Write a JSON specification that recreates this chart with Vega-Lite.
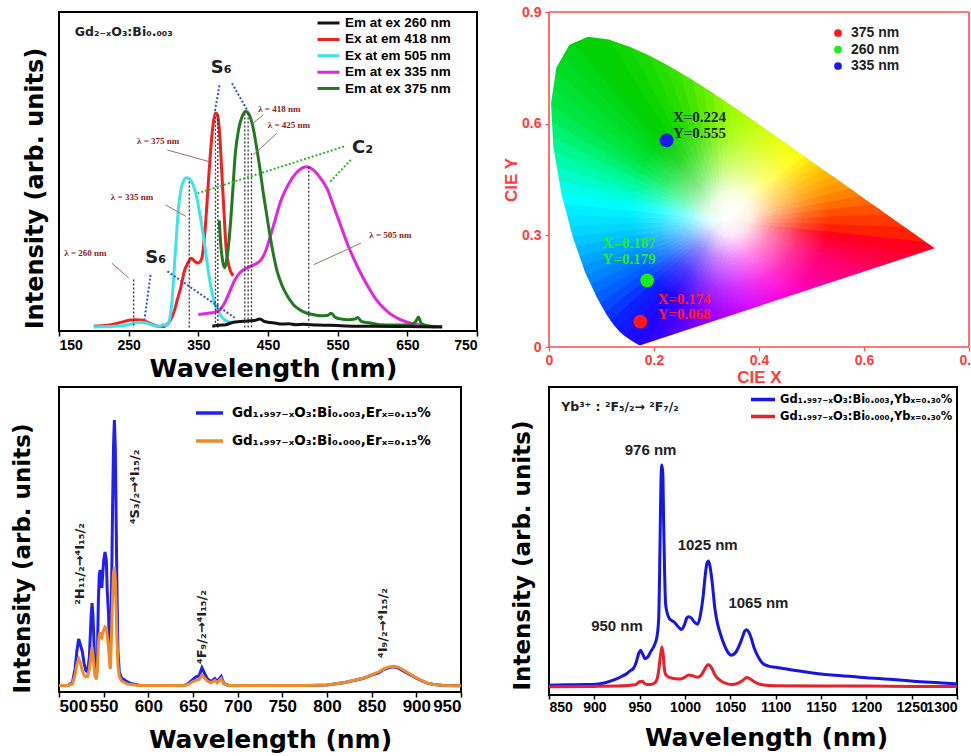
{
"$schema":"https://vega.github.io/schema/vega-lite/v6.json",
"padding":{"left":10,"top":5,"right":0,"bottom":0},
"background":"white",
"columns":2,
"bounds":"flush",
"spacing":{"row":40,"column":72},
"resolve":{"scale":{"color":"independent","fill":"independent"},"legend":{"color":"independent"}},
"datasets":{
"aCurves":[
{"s":"r","x":200,"y":0.5},{"s":"r","x":220,"y":0.8},{"s":"r","x":240,"y":1.8},{"s":"r","x":250,"y":2.4},{"s":"r","x":260,"y":2.6},{"s":"r","x":270,"y":2.4},{"s":"r","x":280,"y":1.5},{"s":"r","x":290,"y":0.6},{"s":"r","x":300,"y":0.4},{"s":"r","x":305,"y":1.0},{"s":"r","x":310,"y":2.5},{"s":"r","x":315,"y":5},{"s":"r","x":320,"y":9},{"s":"r","x":325,"y":13},{"s":"r","x":330,"y":18},{"s":"r","x":335,"y":20.5},{"s":"r","x":340,"y":22},{"s":"r","x":345,"y":21},{"s":"r","x":350,"y":20.5},{"s":"r","x":355,"y":22},{"s":"r","x":360,"y":32},{"s":"r","x":365,"y":48},{"s":"r","x":370,"y":62},{"s":"r","x":375,"y":68},{"s":"r","x":378,"y":67},{"s":"r","x":381,"y":60},{"s":"r","x":384,"y":48},{"s":"r","x":387,"y":36},{"s":"r","x":390,"y":25},{"s":"r","x":394,"y":19.5},{"s":"r","x":400,"y":16.5},
{"s":"c","x":200,"y":0.3},{"s":"c","x":230,"y":0.5},{"s":"c","x":250,"y":1.0},{"s":"c","x":265,"y":1.8},{"s":"c","x":275,"y":1.6},{"s":"c","x":285,"y":0.8},{"s":"c","x":295,"y":0.5},{"s":"c","x":300,"y":1.0},{"s":"c","x":305,"y":0.8},{"s":"c","x":308,"y":2.0},{"s":"c","x":312,"y":8},{"s":"c","x":317,"y":24},{"s":"c","x":322,"y":39},{"s":"c","x":327,"y":45.5},{"s":"c","x":333,"y":47.5},{"s":"c","x":338,"y":47},{"s":"c","x":343,"y":45},{"s":"c","x":348,"y":41},{"s":"c","x":353,"y":35},{"s":"c","x":358,"y":28},{"s":"c","x":363,"y":20},{"s":"c","x":368,"y":13},{"s":"c","x":373,"y":8},{"s":"c","x":380,"y":4.7},{"s":"c","x":390,"y":2.2},{"s":"c","x":400,"y":1.6},
{"s":"m","x":350,"y":4.2},{"s":"m","x":360,"y":4.5},{"s":"m","x":370,"y":4.8},{"s":"m","x":380,"y":5.5},{"s":"m","x":388,"y":8},{"s":"m","x":395,"y":11.5},{"s":"m","x":402,"y":15},{"s":"m","x":410,"y":17.5},{"s":"m","x":420,"y":19},{"s":"m","x":430,"y":20},{"s":"m","x":440,"y":21.5},{"s":"m","x":446,"y":24},{"s":"m","x":452,"y":28},{"s":"m","x":460,"y":34},{"s":"m","x":468,"y":40},{"s":"m","x":476,"y":44},{"s":"m","x":485,"y":47.5},{"s":"m","x":495,"y":50},{"s":"m","x":505,"y":51},{"s":"m","x":515,"y":50},{"s":"m","x":525,"y":47.5},{"s":"m","x":535,"y":44},{"s":"m","x":545,"y":38},{"s":"m","x":555,"y":32},{"s":"m","x":565,"y":26},{"s":"m","x":575,"y":21},{"s":"m","x":585,"y":16.5},{"s":"m","x":595,"y":12.5},{"s":"m","x":605,"y":9},{"s":"m","x":615,"y":6.5},{"s":"m","x":625,"y":4.5},{"s":"m","x":640,"y":2.6},{"s":"m","x":660,"y":1.2},{"s":"m","x":680,"y":0.6},{"s":"m","x":700,"y":0.4},
{"s":"g","x":380,"y":34},{"s":"g","x":382,"y":27},{"s":"g","x":385,"y":21},{"s":"g","x":388,"y":19},{"s":"g","x":391,"y":22},{"s":"g","x":395,"y":30},{"s":"g","x":399,"y":42},{"s":"g","x":403,"y":55},{"s":"g","x":408,"y":63},{"s":"g","x":413,"y":67},{"s":"g","x":418,"y":68.5},{"s":"g","x":423,"y":67.5},{"s":"g","x":428,"y":64},{"s":"g","x":433,"y":58},{"s":"g","x":438,"y":51},{"s":"g","x":443,"y":43},{"s":"g","x":448,"y":36},{"s":"g","x":453,"y":29},{"s":"g","x":458,"y":23},{"s":"g","x":463,"y":18},{"s":"g","x":470,"y":13.5},{"s":"g","x":478,"y":10},{"s":"g","x":486,"y":7.5},{"s":"g","x":495,"y":5.8},{"s":"g","x":505,"y":4.7},{"s":"g","x":515,"y":4.2},{"s":"g","x":525,"y":3.8},{"s":"g","x":535,"y":3.9},{"s":"g","x":541,"y":4.6},{"s":"g","x":546,"y":3.4},{"s":"g","x":555,"y":2.8},{"s":"g","x":565,"y":2.6},{"s":"g","x":575,"y":2.8},{"s":"g","x":579,"y":3.3},{"s":"g","x":584,"y":2.0},{"s":"g","x":595,"y":1.6},{"s":"g","x":610,"y":1.0},{"s":"g","x":630,"y":0.9},{"s":"g","x":655,"y":1.0},{"s":"g","x":662,"y":2.0},{"s":"g","x":666,"y":3.4},{"s":"g","x":670,"y":1.4},{"s":"g","x":680,"y":0.6},{"s":"g","x":690,"y":0.3},
{"s":"k","x":370,"y":0.5},{"s":"k","x":380,"y":0.8},{"s":"k","x":390,"y":1.0},{"s":"k","x":400,"y":1.8},{"s":"k","x":410,"y":2.0},{"s":"k","x":420,"y":2.2},{"s":"k","x":430,"y":2.3},{"s":"k","x":438,"y":2.8},{"s":"k","x":445,"y":2.0},{"s":"k","x":450,"y":1.8},{"s":"k","x":460,"y":1.5},{"s":"k","x":470,"y":1.2},{"s":"k","x":480,"y":1.3},{"s":"k","x":490,"y":1.0},{"s":"k","x":500,"y":1.1},{"s":"k","x":520,"y":0.9},{"s":"k","x":540,"y":0.8},{"s":"k","x":560,"y":0.6},{"s":"k","x":600,"y":0.5},{"s":"k","x":650,"y":0.4},{"s":"k","x":700,"y":0.3}
],
"aVl":[{"x":257.2,"y":15.3},{"x":337,"y":46.3},{"x":374.6,"y":66.8},{"x":378,"y":67.4},{"x":416.7,"y":67.9},{"x":421.5,"y":67.9},{"x":426.3,"y":55.3},{"x":508.5,"y":51}],
"aBl":[{"x":380.4,"y":76.8,"x2":373.2,"y2":67.9},{"x":398.3,"y":77.4,"x2":421.5,"y2":68.4},{"x":281.4,"y":16.8,"x2":272.7,"y2":2.6},{"x":305.6,"y":17.9,"x2":402.2,"y2":3.2}],
"aGr":[{"x":559.2,"y":57.4,"x2":349,"y2":42.6},{"x":568.9,"y":53.2,"x2":537.4,"y2":45.8}],
"aAr":[{"x":225.8,"y":20.5,"x2":250,"y2":15.8},{"x":303.1,"y":38.9,"x2":332.1,"y2":35.3},{"x":305.6,"y":56.3,"x2":366,"y2":52.6},{"x":443.2,"y":67.4,"x2":426.3,"y2":64.5},{"x":462.6,"y":61.6,"x2":428.7,"y2":54.7},{"x":583.3,"y":26.8,"x2":515.7,"y2":20}],
"aLam":[{"x":188,"y":23.6,"t":"λ = 260 nm"},{"x":254.8,"y":41.4,"t":"λ = 335 nm"},{"x":292.4,"y":59.3,"t":"λ = 375 nm"},{"x":466.3,"y":69.3,"t":"λ = 418 nm"},{"x":480,"y":64.2,"t":"λ = 425 nm"},{"x":625.7,"y":29.4,"t":"λ = 505 nm"}],
"aBig":[{"x":382.9,"y":82.2,"t":"S₆"},{"x":288.7,"y":22,"t":"S₆"},{"x":585.7,"y":56.9,"t":"C₂"}],
"wedges":[{"a0":0,"a1":4.5,"m":2},{"a0":4,"a1":8.5,"m":6},{"a0":8,"a1":12.5,"m":10},{"a0":12,"a1":16.5,"m":14},{"a0":16,"a1":20.5,"m":18},{"a0":20,"a1":24.5,"m":22},{"a0":24,"a1":28.5,"m":26},{"a0":28,"a1":32.5,"m":30},{"a0":32,"a1":36.5,"m":34},{"a0":36,"a1":40.5,"m":38},{"a0":40,"a1":44.5,"m":42},{"a0":44,"a1":48.5,"m":46},{"a0":48,"a1":52.5,"m":50},{"a0":52,"a1":56.5,"m":54},{"a0":56,"a1":60.5,"m":58},{"a0":60,"a1":64.5,"m":62},{"a0":64,"a1":68.5,"m":66},{"a0":68,"a1":72.5,"m":70},{"a0":72,"a1":76.5,"m":74},{"a0":76,"a1":80.5,"m":78},{"a0":80,"a1":84.5,"m":82},{"a0":84,"a1":88.5,"m":86},{"a0":88,"a1":92.5,"m":90},{"a0":92,"a1":96.5,"m":94},{"a0":96,"a1":100.5,"m":98},{"a0":100,"a1":104.5,"m":102},{"a0":104,"a1":108.5,"m":106},{"a0":108,"a1":112.5,"m":110},{"a0":112,"a1":116.5,"m":114},{"a0":116,"a1":120.5,"m":118},{"a0":120,"a1":124.5,"m":122},{"a0":124,"a1":128.5,"m":126},{"a0":128,"a1":132.5,"m":130},{"a0":132,"a1":136.5,"m":134},{"a0":136,"a1":140.5,"m":138},{"a0":140,"a1":144.5,"m":142},{"a0":144,"a1":148.5,"m":146},{"a0":148,"a1":152.5,"m":150},{"a0":152,"a1":156.5,"m":154},{"a0":156,"a1":160.5,"m":158},{"a0":160,"a1":164.5,"m":162},{"a0":164,"a1":168.5,"m":166},{"a0":168,"a1":172.5,"m":170},{"a0":172,"a1":176.5,"m":174},{"a0":176,"a1":180.5,"m":178},{"a0":180,"a1":184.5,"m":182},{"a0":184,"a1":188.5,"m":186},{"a0":188,"a1":192.5,"m":190},{"a0":192,"a1":196.5,"m":194},{"a0":196,"a1":200.5,"m":198},{"a0":200,"a1":204.5,"m":202},{"a0":204,"a1":208.5,"m":206},{"a0":208,"a1":212.5,"m":210},{"a0":212,"a1":216.5,"m":214},{"a0":216,"a1":220.5,"m":218},{"a0":220,"a1":224.5,"m":222},{"a0":224,"a1":228.5,"m":226},{"a0":228,"a1":232.5,"m":230},{"a0":232,"a1":236.5,"m":234},{"a0":236,"a1":240.5,"m":238},{"a0":240,"a1":244.5,"m":242},{"a0":244,"a1":248.5,"m":246},{"a0":248,"a1":252.5,"m":250},{"a0":252,"a1":256.5,"m":254},{"a0":256,"a1":260.5,"m":258},{"a0":260,"a1":264.5,"m":262},{"a0":264,"a1":268.5,"m":266},{"a0":268,"a1":272.5,"m":270},{"a0":272,"a1":276.5,"m":274},{"a0":276,"a1":280.5,"m":278},{"a0":280,"a1":284.5,"m":282},{"a0":284,"a1":288.5,"m":286},{"a0":288,"a1":292.5,"m":290},{"a0":292,"a1":296.5,"m":294},{"a0":296,"a1":300.5,"m":298},{"a0":300,"a1":304.5,"m":302},{"a0":304,"a1":308.5,"m":306},{"a0":308,"a1":312.5,"m":310},{"a0":312,"a1":316.5,"m":314},{"a0":316,"a1":320.5,"m":318},{"a0":320,"a1":324.5,"m":322},{"a0":324,"a1":328.5,"m":326},{"a0":328,"a1":332.5,"m":330},{"a0":332,"a1":336.5,"m":334},{"a0":336,"a1":340.5,"m":338},{"a0":340,"a1":344.5,"m":342},{"a0":344,"a1":348.5,"m":346},{"a0":348,"a1":352.5,"m":350},{"a0":352,"a1":356.5,"m":354},{"a0":356,"a1":360.5,"m":358}],
"mask":[{"i":0,"x":0,"y":0.9},{"i":1,"x":0.8,"y":0.9},{"i":2,"x":0.8,"y":0},{"i":3,"x":0,"y":0},{"i":4,"x":0,"y":0.5384},{"i":5,"x":0.0082,"y":0.5384},{"i":6,"x":0.0235,"y":0.4127},{"i":7,"x":0.0454,"y":0.295},{"i":8,"x":0.0687,"y":0.2007},{"i":9,"x":0.0913,"y":0.1327},{"i":10,"x":0.1096,"y":0.0868},{"i":11,"x":0.1241,"y":0.0578},{"i":12,"x":0.1355,"y":0.0399},{"i":13,"x":0.144,"y":0.0297},{"i":14,"x":0.1566,"y":0.0177},{"i":15,"x":0.1644,"y":0.0109},{"i":16,"x":0.1714,"y":0.0051},{"i":17,"x":0.1741,"y":0.005},{"i":18,"x":0.7347,"y":0.2653},{"i":19,"x":0.719,"y":0.2809},{"i":20,"x":0.7079,"y":0.292},{"i":21,"x":0.6915,"y":0.3083},{"i":22,"x":0.6658,"y":0.334},{"i":23,"x":0.627,"y":0.3725},{"i":24,"x":0.6029,"y":0.3965},{"i":25,"x":0.5752,"y":0.4242},{"i":26,"x":0.5448,"y":0.4544},{"i":27,"x":0.5125,"y":0.4866},{"i":28,"x":0.4788,"y":0.5202},{"i":29,"x":0.4441,"y":0.5547},{"i":30,"x":0.4087,"y":0.5896},{"i":31,"x":0.3731,"y":0.6245},{"i":32,"x":0.3373,"y":0.6589},{"i":33,"x":0.3016,"y":0.6923},{"i":34,"x":0.2658,"y":0.7243},{"i":35,"x":0.2296,"y":0.7543},{"i":36,"x":0.1929,"y":0.7816},{"i":37,"x":0.1547,"y":0.8059},{"i":38,"x":0.1142,"y":0.8262},{"i":39,"x":0.0743,"y":0.8338},{"i":40,"x":0.0389,"y":0.812},{"i":41,"x":0.0139,"y":0.7502},{"i":42,"x":0.0039,"y":0.6548},{"i":43,"x":0.0082,"y":0.5384},{"i":44,"x":0,"y":0.5384},{"i":45,"x":0,"y":0.9}],
"cie":[{"x":0.174,"y":0.068,"c":"375 nm"},{"x":0.187,"y":0.179,"c":"260 nm"},{"x":0.224,"y":0.555,"c":"335 nm"}],
"cCurves":[
{"s":"b","x":500,"y":0.5},{"s":"b","x":510,"y":0.5},{"s":"b","x":515,"y":1.5},{"s":"b","x":518,"y":6},{"s":"b","x":520,"y":12},{"s":"b","x":522,"y":16},{"s":"b","x":524,"y":14},{"s":"b","x":526,"y":12},{"s":"b","x":528,"y":8},{"s":"b","x":530,"y":5.5},{"s":"b","x":532,"y":5},{"s":"b","x":534,"y":10},{"s":"b","x":536,"y":24},{"s":"b","x":537,"y":28},{"s":"b","x":538,"y":24},{"s":"b","x":540,"y":8},{"s":"b","x":542,"y":4.5},{"s":"b","x":543,"y":10},{"s":"b","x":544,"y":28},{"s":"b","x":545,"y":37},{"s":"b","x":546,"y":39},{"s":"b","x":547,"y":36},{"s":"b","x":548,"y":33},{"s":"b","x":549,"y":38},{"s":"b","x":550,"y":42},{"s":"b","x":551.5,"y":45},{"s":"b","x":553,"y":42},{"s":"b","x":554,"y":32},{"s":"b","x":555.5,"y":24},{"s":"b","x":556.5,"y":12},{"s":"b","x":557.5,"y":9},{"s":"b","x":558.5,"y":25},{"s":"b","x":560,"y":60},{"s":"b","x":561,"y":80},{"s":"b","x":562,"y":89},{"s":"b","x":563,"y":80},{"s":"b","x":564,"y":55},{"s":"b","x":565,"y":30},{"s":"b","x":566,"y":12},{"s":"b","x":567.5,"y":5},{"s":"b","x":570,"y":3},{"s":"b","x":575,"y":2},{"s":"b","x":580,"y":1.2},{"s":"b","x":590,"y":0.6},{"s":"b","x":600,"y":0.5},{"s":"b","x":640,"y":0.5},{"s":"b","x":645,"y":1.2},{"s":"b","x":650,"y":2.5},{"s":"b","x":653,"y":3.3},{"s":"b","x":657,"y":3.8},{"s":"b","x":660,"y":6.4},{"s":"b","x":663,"y":4.5},{"s":"b","x":666,"y":2.8},{"s":"b","x":670,"y":1.8},{"s":"b","x":674.5,"y":2.8},{"s":"b","x":677,"y":1.8},{"s":"b","x":681.5,"y":3.5},{"s":"b","x":684.5,"y":1.2},{"s":"b","x":690,"y":0.5},{"s":"b","x":700,"y":0.5},{"s":"b","x":780,"y":0.5},{"s":"b","x":800,"y":0.7},{"s":"b","x":820,"y":1.5},{"s":"b","x":840,"y":2.8},{"s":"b","x":850,"y":4.0},{"s":"b","x":854,"y":4.4},{"s":"b","x":858,"y":4.7},{"s":"b","x":862,"y":5.6},{"s":"b","x":868,"y":6.3},{"s":"b","x":874,"y":6.7},{"s":"b","x":880,"y":6.3},{"s":"b","x":886,"y":5.3},{"s":"b","x":892,"y":4.3},{"s":"b","x":898,"y":3.3},{"s":"b","x":905,"y":2.2},{"s":"b","x":913,"y":1.2},{"s":"b","x":920,"y":0.8},{"s":"b","x":930,"y":0.5},{"s":"b","x":950,"y":0.4},
{"s":"o","x":500,"y":0.5},{"s":"o","x":510,"y":0.5},{"s":"o","x":515,"y":1},{"s":"o","x":518,"y":4},{"s":"o","x":520,"y":7.5},{"s":"o","x":522,"y":9.4},{"s":"o","x":524,"y":8},{"s":"o","x":526,"y":5.5},{"s":"o","x":528,"y":4},{"s":"o","x":530,"y":3.5},{"s":"o","x":532,"y":3.5},{"s":"o","x":534,"y":6},{"s":"o","x":536,"y":11},{"s":"o","x":537,"y":13.3},{"s":"o","x":538,"y":11},{"s":"o","x":540,"y":4},{"s":"o","x":542,"y":2.5},{"s":"o","x":543,"y":6},{"s":"o","x":544,"y":14},{"s":"o","x":545,"y":17},{"s":"o","x":546,"y":18.3},{"s":"o","x":547,"y":17},{"s":"o","x":548,"y":16.5},{"s":"o","x":549,"y":18},{"s":"o","x":550,"y":19},{"s":"o","x":551.5,"y":20},{"s":"o","x":553,"y":19.5},{"s":"o","x":554,"y":17},{"s":"o","x":555.5,"y":13},{"s":"o","x":556.5,"y":8},{"s":"o","x":557.5,"y":6},{"s":"o","x":558.5,"y":15},{"s":"o","x":560,"y":30},{"s":"o","x":561,"y":38},{"s":"o","x":562,"y":40},{"s":"o","x":563,"y":36},{"s":"o","x":564,"y":26},{"s":"o","x":565,"y":15},{"s":"o","x":566,"y":7},{"s":"o","x":567.5,"y":3.5},{"s":"o","x":570,"y":2},{"s":"o","x":575,"y":1.2},{"s":"o","x":580,"y":0.8},{"s":"o","x":590,"y":0.5},{"s":"o","x":640,"y":0.5},{"s":"o","x":645,"y":0.9},{"s":"o","x":650,"y":1.8},{"s":"o","x":653,"y":2.2},{"s":"o","x":657,"y":2.6},{"s":"o","x":660,"y":3.9},{"s":"o","x":663,"y":3.0},{"s":"o","x":666,"y":2.0},{"s":"o","x":670,"y":1.4},{"s":"o","x":674.5,"y":2.2},{"s":"o","x":677,"y":1.4},{"s":"o","x":681.5,"y":2.8},{"s":"o","x":684.5,"y":1.0},{"s":"o","x":690,"y":0.5},{"s":"o","x":700,"y":0.5},{"s":"o","x":780,"y":0.5},{"s":"o","x":800,"y":0.7},{"s":"o","x":820,"y":1.5},{"s":"o","x":840,"y":2.9},{"s":"o","x":850,"y":4.0},{"s":"o","x":854,"y":4.6},{"s":"o","x":858,"y":5.0},{"s":"o","x":862,"y":5.8},{"s":"o","x":868,"y":6.6},{"s":"o","x":874,"y":6.9},{"s":"o","x":880,"y":6.6},{"s":"o","x":886,"y":5.6},{"s":"o","x":892,"y":4.5},{"s":"o","x":898,"y":3.4},{"s":"o","x":905,"y":2.3},{"s":"o","x":913,"y":1.3},{"s":"o","x":920,"y":0.8},{"s":"o","x":930,"y":0.5},{"s":"o","x":950,"y":0.4}
],
"cNotes":[{"x":523.4,"y":41,"t":"²H₁₁/₂→⁴I₁₅/₂"},{"x":584.7,"y":66.7,"t":"⁴S₃/₂→⁴I₁₅/₂"},{"x":660,"y":20,"t":"⁴F₉/₂→⁴I₁₅/₂"},{"x":863,"y":21.3,"t":"⁴I₉/₂→⁴I₁₅/₂"}],
"dCurves":[
{"s":"b","x":850,"y":3.2},{"s":"b","x":870,"y":3.3},{"s":"b","x":890,"y":3.4},{"s":"b","x":902,"y":3.5},{"s":"b","x":912,"y":4},{"s":"b","x":921,"y":4.8},{"s":"b","x":930,"y":6},{"s":"b","x":936,"y":7},{"s":"b","x":940,"y":8},{"s":"b","x":943,"y":8.6},{"s":"b","x":946,"y":10.5},{"s":"b","x":949,"y":13.5},{"s":"b","x":951,"y":14.5},{"s":"b","x":953,"y":13.5},{"s":"b","x":956,"y":11.8},{"s":"b","x":959,"y":12.3},{"s":"b","x":962,"y":14},{"s":"b","x":966,"y":16},{"s":"b","x":969,"y":18.8},{"s":"b","x":971,"y":25},{"s":"b","x":972.5,"y":50},{"s":"b","x":973.5,"y":70},{"s":"b","x":974.5,"y":74.7},{"s":"b","x":975.5,"y":72},{"s":"b","x":976.5,"y":55},{"s":"b","x":977.5,"y":40},{"s":"b","x":978.5,"y":30},{"s":"b","x":980,"y":27},{"s":"b","x":983,"y":24.7},{"s":"b","x":988,"y":23.7},{"s":"b","x":993,"y":22},{"s":"b","x":996,"y":21.3},{"s":"b","x":999,"y":22.5},{"s":"b","x":1002,"y":25},{"s":"b","x":1004,"y":25.4},{"s":"b","x":1007,"y":25},{"s":"b","x":1010,"y":23.8},{"s":"b","x":1014,"y":23},{"s":"b","x":1017,"y":26},{"s":"b","x":1020,"y":32},{"s":"b","x":1022,"y":38},{"s":"b","x":1024,"y":42.5},{"s":"b","x":1026,"y":43.5},{"s":"b","x":1028,"y":41},{"s":"b","x":1030,"y":36.5},{"s":"b","x":1033,"y":28},{"s":"b","x":1036,"y":23},{"s":"b","x":1039,"y":19.9},{"s":"b","x":1043,"y":16.5},{"s":"b","x":1047,"y":14},{"s":"b","x":1051,"y":12.9},{"s":"b","x":1055,"y":13.5},{"s":"b","x":1059,"y":15.5},{"s":"b","x":1063,"y":18.5},{"s":"b","x":1066,"y":20.8},{"s":"b","x":1068,"y":21.2},{"s":"b","x":1070,"y":20.6},{"s":"b","x":1073,"y":18.5},{"s":"b","x":1076,"y":15.5},{"s":"b","x":1080,"y":12.8},{"s":"b","x":1085,"y":10.5},{"s":"b","x":1092,"y":9.4},{"s":"b","x":1100,"y":9},{"s":"b","x":1110,"y":8.5},{"s":"b","x":1126,"y":7.8},{"s":"b","x":1145,"y":7},{"s":"b","x":1165,"y":6.4},{"s":"b","x":1185,"y":6},{"s":"b","x":1200,"y":5.6},{"s":"b","x":1220,"y":5.2},{"s":"b","x":1240,"y":4.8},{"s":"b","x":1260,"y":4.3},{"s":"b","x":1280,"y":4},{"s":"b","x":1300,"y":3.6},
{"s":"r","x":850,"y":2.7},{"s":"r","x":900,"y":2.8},{"s":"r","x":930,"y":3.0},{"s":"r","x":945,"y":3.3},{"s":"r","x":950,"y":4.3},{"s":"r","x":953,"y":4.5},{"s":"r","x":956,"y":3.6},{"s":"r","x":962,"y":3.4},{"s":"r","x":966,"y":3.8},{"s":"r","x":969,"y":5},{"s":"r","x":971,"y":8},{"s":"r","x":973,"y":13},{"s":"r","x":974.5,"y":15.6},{"s":"r","x":976,"y":13},{"s":"r","x":977.5,"y":8},{"s":"r","x":979,"y":6.5},{"s":"r","x":985,"y":5.5},{"s":"r","x":994,"y":5.2},{"s":"r","x":1000,"y":5.8},{"s":"r","x":1004,"y":6.5},{"s":"r","x":1008,"y":6.3},{"s":"r","x":1014,"y":5.8},{"s":"r","x":1018,"y":6.5},{"s":"r","x":1022,"y":8.5},{"s":"r","x":1025.5,"y":9.9},{"s":"r","x":1029,"y":9},{"s":"r","x":1033,"y":6.5},{"s":"r","x":1040,"y":4.5},{"s":"r","x":1047,"y":3.6},{"s":"r","x":1052,"y":3.4},{"s":"r","x":1058,"y":3.8},{"s":"r","x":1064,"y":4.8},{"s":"r","x":1068,"y":5.7},{"s":"r","x":1072,"y":5.2},{"s":"r","x":1078,"y":4},{"s":"r","x":1085,"y":3.3},{"s":"r","x":1100,"y":3.0},{"s":"r","x":1150,"y":2.9},{"s":"r","x":1200,"y":2.9},{"s":"r","x":1250,"y":2.8},{"s":"r","x":1300,"y":2.8}
],
"dNotes":[{"x":962,"y":79.4,"t":"976 nm"},{"x":1025,"y":48.7,"t":"1025 nm"},{"x":1081,"y":30,"t":"1065 nm"},{"x":925,"y":22.3,"t":"950 nm"}]
},
"concat":[
{
"width":418,"height":319,
"layer":[
{"data":{"name":"aCurves"},"mark":{"type":"line","strokeWidth":3,"interpolate":"monotone"},
"encoding":{
"x":{"field":"x","type":"quantitative","scale":{"domain":[150,750],"nice":false,"zero":false},
"axis":{"title":"Wavelength (nm)","format":"d","values":[150,175,200,225,250,275,300,325,350,375,400,425,450,475,500,525,550,575,600,625,650,675,700,725,750],"labelExpr":"datum.value % 50 == 0 ? datum.label : ''","tickSize":{"condition":{"test":"datum.value % 50 == 0","value":5},"value":3},"tickWidth":1.5,"labelFontSize":14,"labelPadding":2,"titleFontSize":25.5,"titlePadding":4,"titleX":214}},
"y":{"field":"y","type":"quantitative","scale":{"domain":[-1,100],"nice":false,"zero":false},
"axis":{"title":"Intensity (arb. units)","labels":false,"ticks":false,"titleFontSize":24,"titlePadding":12,"titleY":176}},
"color":{"field":"s","type":"nominal","scale":{"domain":["k","r","c","m","g"],"range":["#111111","#ee2222","#3ee3e8","#e026e0","#217a21"]},
"legend":{"orient":"none","legendX":257,"legendY":4,"title":null,"labelFontSize":13.5,"labelLimit":400,"symbolType":"stroke","symbolSize":484,"symbolStrokeWidth":3,"clipHeight":14,"rowPadding":2.4,"labelOffset":4,
"labelExpr":"datum.label == 'k' ? 'Em at ex 260 nm' : datum.label == 'r' ? 'Ex at em 418 nm' : datum.label == 'c' ? 'Ex at em 505 nm' : datum.label == 'm' ? 'Em at ex 335 nm' : 'Em at ex 375 nm'"}}
}},
{"data":{"name":"aVl"},"mark":{"type":"rule","strokeDash":[2,2],"strokeWidth":1.3,"color":"#333333"},
"encoding":{"x":{"field":"x","type":"quantitative"},"y":{"field":"y","type":"quantitative"},"y2":{"datum":0}}},
{"data":{"name":"aBl"},"mark":{"type":"rule","strokeDash":[2,2],"strokeWidth":2,"color":"#3b4cc0"},
"encoding":{"x":{"field":"x","type":"quantitative"},"y":{"field":"y","type":"quantitative"},"x2":{"field":"x2"},"y2":{"field":"y2"}}},
{"data":{"name":"aGr"},"mark":{"type":"rule","strokeDash":[2,2],"strokeWidth":2,"color":"#2fb52f"},
"encoding":{"x":{"field":"x","type":"quantitative"},"y":{"field":"y","type":"quantitative"},"x2":{"field":"x2"},"y2":{"field":"y2"}}},
{"data":{"name":"aAr"},"mark":{"type":"rule","strokeWidth":1,"color":"#9a7070"},
"encoding":{"x":{"field":"x","type":"quantitative"},"y":{"field":"y","type":"quantitative"},"x2":{"field":"x2"},"y2":{"field":"y2"}}},
{"data":{"name":"aLam"},"mark":{"type":"text","font":"Liberation Serif","fontWeight":"bold","fontSize":9,"color":"#8b1a1a"},
"encoding":{"x":{"field":"x","type":"quantitative"},"y":{"field":"y","type":"quantitative"},"text":{"field":"t"}}},
{"data":{"name":"aBig"},"mark":{"type":"text","fontSize":18,"color":"#222222"},
"encoding":{"x":{"field":"x","type":"quantitative"},"y":{"field":"y","type":"quantitative"},"text":{"field":"t"}}},
{"data":{"values":[{"x":172.7,"y":93.6,"t":"Gd₂₋ₓO₃:Bi₀.₀₀₃"}]},"mark":{"type":"text","fontSize":12.5,"align":"left","color":"#222222"},
"encoding":{"x":{"field":"x","type":"quantitative"},"y":{"field":"y","type":"quantitative"},"text":{"field":"t"}}}
]
},
{
"width":420,"height":335,
"view":{"stroke":null},
"layer":[
{"data":{"name":"wedges"},"mark":{"type":"arc","outerRadius":340,"innerRadius":0,"clip":true,"strokeWidth":0},
"encoding":{
"x":{"datum":0.33,"type":"quantitative","scale":{"domain":[0,0.8],"nice":false,"zero":false},
"axis":{"title":"CIE X","values":[0,0.2,0.4,0.6,0.8],"labelExpr":"datum.value == 0 ? '0' : datum.value > 0.79 ? '0.' : format(datum.value, '.1f')","labelAlign":{"condition":{"test":"datum.value > 0.79","value":"left"},"value":"center"},"labelOffset":{"condition":{"test":"datum.value > 0.79","value":-10},"value":0},"tickSize":4,"tickColor":"#ff4d4d","tickWidth":1.2,"labelColor":"#ff3b3b","labelFontSize":14,"labelPadding":2,"titleFont":"Liberation Sans","titleFontSize":17,"titleColor":"#ff3b3b","titlePadding":2}},
"y":{"datum":0.34,"type":"quantitative","scale":{"domain":[0,0.9],"nice":false,"zero":false},
"axis":{"title":"CIE Y","values":[0,0.3,0.6,0.9],"labelExpr":"datum.value == 0 ? '0' : format(datum.value, '.1f')","tickSize":4,"tickColor":"#ff4d4d","tickWidth":1.2,"labelColor":"#ff3b3b","labelFontSize":14,"labelPadding":4,"titleFont":"Liberation Sans","titleFontSize":17,"titleColor":"#ff3b3b","titlePadding":1}},
"theta":{"field":"a0","type":"quantitative","stack":null,"scale":{"type":"linear","domain":[0,360],"range":[0,6.2832]}},
"theta2":{"field":"a1"},
"fill":{"field":"m","type":"quantitative","legend":null,"scale":{"interpolate":"rgb","domain":[0,12,37,49,60,76,86,94,98,110,141,165,189,205,213,226,238,249,263,279,294,304,324,332,341,353,360],"range":["#90f800","#b0ff00","#e8ff00","#ffff00","#ffd000","#ff9000","#ff5000","#ff2000","#ff0020","#ff0070","#ff00d8","#d000ff","#9000ff","#4800ff","#2400ff","#0c20ff","#0060ff","#0090ff","#00ccff","#00ffff","#00f890","#00e848","#00d000","#10d800","#30e000","#68ee00","#90f800"]}}
}},
{"data":{"values":[{}]},"mark":{"type":"point","shape":"circle","filled":true,"size":40000,"strokeWidth":0,"opacity":1,
"fill":{"gradient":"radial","x1":0.5,"y1":0.5,"r1":0,"x2":0.5,"y2":0.5,"r2":0.5,"stops":[{"offset":0,"color":"rgba(255,255,255,1)"},{"offset":0.2,"color":"rgba(255,255,255,0.9)"},{"offset":0.45,"color":"rgba(255,255,255,0.5)"},{"offset":0.73,"color":"rgba(255,255,255,0.18)"},{"offset":1,"color":"rgba(255,255,255,0)"}]}},
"encoding":{"x":{"datum":0.345},"y":{"datum":0.355}}},
{"data":{"name":"mask"},"mark":{"type":"line","fill":"white","strokeOpacity":0,"interpolate":"linear"},
"encoding":{"x":{"field":"x","type":"quantitative"},"y":{"field":"y","type":"quantitative"},"order":{"field":"i","type":"quantitative"}}},
{"data":{"values":[{}]},"mark":{"type":"rule","color":"#ff4d4d","strokeWidth":1.6},"encoding":{"x":{"datum":0}}},
{"data":{"values":[{}]},"mark":{"type":"rule","color":"#ff4d4d","strokeWidth":1.6},"encoding":{"x":{"datum":0.8}}},
{"data":{"values":[{}]},"mark":{"type":"rule","color":"#ff4d4d","strokeWidth":1.6},"encoding":{"y":{"datum":0}}},
{"data":{"values":[{}]},"mark":{"type":"rule","color":"#ff4d4d","strokeWidth":1.6},"encoding":{"y":{"datum":0.9}}},
{"data":{"name":"cie"},"mark":{"type":"point","shape":"circle","filled":true,"size":190,"opacity":1},
"encoding":{"x":{"field":"x","type":"quantitative"},"y":{"field":"y","type":"quantitative"},
"color":{"field":"c","type":"nominal","scale":{"domain":["375 nm","260 nm","335 nm"],"range":["#ff1a1a","#1aee1a","#1a1aee"]},
"legend":{"orient":"none","legendX":282,"legendY":15,"title":null,"labelFontSize":14,"labelColor":"#222222","symbolSize":60,"symbolType":"circle","clipHeight":12,"rowPadding":2.5,"labelOffset":6}}}},
{"data":{"values":[{"x":0.236,"y":0.619,"t":"X=0.224"},{"x":0.236,"y":0.576,"t":"Y=0.555"}]},"mark":{"type":"text","font":"Liberation Serif","fontWeight":"bold","fontSize":15,"align":"left","color":"#1b2b3b"},
"encoding":{"x":{"field":"x","type":"quantitative"},"y":{"field":"y","type":"quantitative"},"text":{"field":"t"}}},
{"data":{"values":[{"x":0.102,"y":0.279,"t":"X=0.187"},{"x":0.102,"y":0.237,"t":"Y=0.179"}]},"mark":{"type":"text","font":"Liberation Serif","fontWeight":"bold","fontSize":15,"align":"left","color":"#2ee82e"},
"encoding":{"x":{"field":"x","type":"quantitative"},"y":{"field":"y","type":"quantitative"},"text":{"field":"t"}}},
{"data":{"values":[{"x":0.207,"y":0.128,"t":"X=0.174"},{"x":0.207,"y":0.088,"t":"Y=0.068"}]},"mark":{"type":"text","font":"Liberation Serif","fontWeight":"bold","fontSize":15,"align":"left","color":"#ff1f1f"},
"encoding":{"x":{"field":"x","type":"quantitative"},"y":{"field":"y","type":"quantitative"},"text":{"field":"t"}}}
]
},
{
"width":402,"height":305,
"layer":[
{"data":{"name":"cCurves"},"mark":{"type":"line","strokeWidth":3,"interpolate":"linear"},
"encoding":{
"x":{"field":"x","type":"quantitative","scale":{"domain":[500,950],"nice":false,"zero":false},
"axis":{"title":"Wavelength (nm)","format":"d","values":[500,525,550,575,600,625,650,675,700,725,750,775,800,825,850,875,900,925,950],"labelExpr":"datum.value % 50 == 0 ? datum.label : ''","tickSize":{"condition":{"test":"datum.value % 50 == 0","value":5},"value":3},"tickWidth":1.5,"labelFontSize":17,"labelPadding":1,"titleFontSize":25,"titlePadding":13,"titleX":211}},
"y":{"field":"y","type":"quantitative","scale":{"domain":[-1.67,100],"nice":false,"zero":false},
"axis":{"title":"Intensity (arb. units)","labels":false,"ticks":false,"titleFontSize":23,"titlePadding":25,"titleY":171}},
"color":{"field":"s","type":"nominal","scale":{"domain":["b","o"],"range":["#2020f0","#f08c28"]},
"legend":{"orient":"none","legendX":135,"legendY":16,"title":null,"labelFont":"DejaVu Sans","labelFontSize":13.5,"labelLimit":500,"symbolType":"stroke","symbolSize":729,"symbolStrokeWidth":3.5,"clipHeight":20,"rowPadding":8,"labelOffset":7,
"labelExpr":"datum.label == 'b' ? 'Gd₁.₉₉₇₋ₓO₃:Bi₀.₀₀₃,Erₓ₌₀.₁₅%' : 'Gd₁.₉₉₇₋ₓO₃:Bi₀.₀₀₀,Erₓ₌₀.₁₅%'"}}
}},
{"data":{"name":"cNotes"},"mark":{"type":"text","fontSize":13,"angle":270,"color":"#222222"},
"encoding":{"x":{"field":"x","type":"quantitative"},"y":{"field":"y","type":"quantitative"},"text":{"field":"t"}}}
]
},
{
"width":408,"height":308,
"layer":[
{"data":{"name":"dCurves"},"mark":{"type":"line","strokeWidth":3,"interpolate":"monotone"},
"encoding":{
"x":{"field":"x","type":"quantitative","scale":{"domain":[850,1300],"nice":false,"zero":false},
"axis":{"title":"Wavelength (nm)","format":"d","values":[850,875,900,925,950,975,1000,1025,1050,1075,1100,1125,1150,1175,1200,1225,1250,1275,1300],"labelExpr":"datum.value % 50 == 0 ? datum.label : ''","tickSize":{"condition":{"test":"datum.value % 50 == 0","value":4},"value":3},"tickWidth":1.5,"labelFontSize":14,"labelPadding":1,"titleFontSize":25,"titlePadding":11,"titleX":217}},
"y":{"field":"y","type":"quantitative","scale":{"domain":[0,100],"nice":false},
"axis":{"title":"Intensity (arb. units)","labels":false,"ticks":false,"titleFontSize":23,"titlePadding":15,"titleY":168}},
"color":{"field":"s","type":"nominal","scale":{"domain":["b","r"],"range":["#1515e6","#e8202a"]},
"legend":{"orient":"none","legendX":200,"legendY":6,"title":null,"labelFont":"DejaVu Sans","labelFontSize":11.5,"labelLimit":500,"symbolType":"stroke","symbolSize":576,"symbolStrokeWidth":3.5,"clipHeight":13,"rowPadding":4,"labelOffset":3,
"labelExpr":"datum.label == 'b' ? 'Gd₁.₉₉₇₋ₓO₃:Bi₀.₀₀₃,Ybₓ₌₀.₃₀%' : 'Gd₁.₉₉₇₋ₓO₃:Bi₀.₀₀₀,Ybₓ₌₀.₃₀%'"}}
}},
{"data":{"name":"dNotes"},"mark":{"type":"text","font":"Liberation Sans","fontSize":15,"color":"#222222"},
"encoding":{"x":{"field":"x","type":"quantitative"},"y":{"field":"y","type":"quantitative"},"text":{"field":"t"}}},
{"data":{"values":[{"x":863.4,"y":93.5,"t":"Yb³⁺ : ²F₅/₂→ ²F₇/₂"}]},"mark":{"type":"text","fontSize":12.5,"align":"left","color":"#222222"},
"encoding":{"x":{"field":"x","type":"quantitative"},"y":{"field":"y","type":"quantitative"},"text":{"field":"t"}}}
]
}
],
"config":{
"view":{"stroke":"black","strokeWidth":2},
"axis":{"grid":false,"domain":false,"labelFont":"Liberation Sans","labelFontWeight":"bold","labelColor":"black","titleFont":"DejaVu Sans","titleFontWeight":"bold","titleColor":"black","tickColor":"black","minExtent":0,"labelOverlap":false},
"legend":{"padding":0,"labelFont":"Liberation Sans","labelFontWeight":"bold","labelColor":"black"},
"text":{"font":"DejaVu Sans","fontWeight":"bold"}
}
}
